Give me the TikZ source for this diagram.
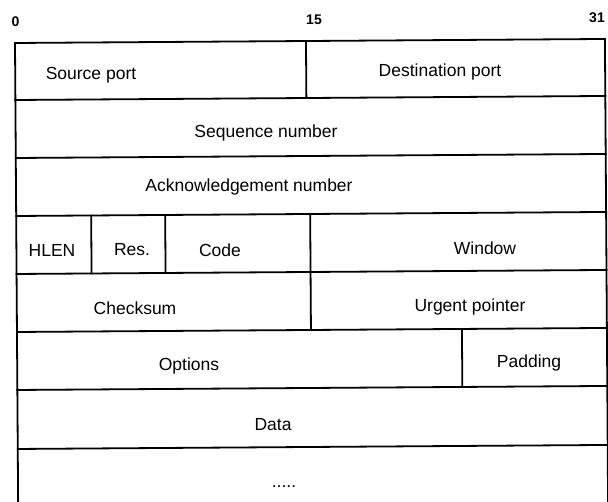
\documentclass[tikz,border=0pt]{standalone}
\usepackage{fontspec}
\setmainfont{Liberation Sans}
\begin{document}
\begin{tikzpicture}[x=1pt,y=-1pt,
  grid/.style={line width=1.8pt,line cap=rect},
  field/.style={inner sep=0pt,font=\fontsize{17.5}{20}\selectfont},
  bitlabel/.style={inner sep=0pt,font=\fontsize{14}{16}\selectfont\bfseries}]
\useasboundingbox (0,0) rectangle (608,502);
\fill[white] (0,0) rectangle (608,502);
% grid, slightly tilted as in the scan
\begin{scope}[rotate around={0.39:(15,43)}]
  \coordinate (tl) at (15,43);
  \coordinate (tr) at (605,43);
  \coordinate (bl) at (15,510);
  \coordinate (br) at (605,510);
  \draw[grid] (bl) -- (tl) -- (tr) -- (br);
  \foreach \y in {100,158,216,274,332,390,449}
    \draw[grid] (15,\y) -- (605,\y);
  \draw[grid] (306,43) -- (306,100);
  \draw[grid] (90,216) -- (90,274);
  \draw[grid] (164,216) -- (164,274);
  \draw[grid] (309,216) -- (309,332);
  \draw[grid] (460,332) -- (460,390);
\end{scope}
% bit position labels
\node[bitlabel] (b0)  at (15.5,22) {0};
\node[bitlabel] (b15) at (314,20) {15};
\node[bitlabel] (b31) at (597,18) {31};
% field texts
\node[field] (src)  at (91,75)   {Source port};
\node[field] (dst)  at (440,72)  {Destination port};
\node[field] (seq)  at (266,133) {Sequence number};
\node[field] (ack)  at (249,187) {Acknowledgement number};
\node[field] (hlen) at (52,250)  {HLEN};
\node[field] (res)  at (132,250) {Res.};
\node[field] (code) at (220,250) {Code};
\node[field] (win)  at (485,248) {Window};
\node[field] (chk)  at (135,308) {Checksum};
\node[field] (urg)  at (470,307) {Urgent pointer};
\node[field] (opt)  at (189,366) {Options};
\node[field] (pad)  at (529,363) {Padding};
\node[field] (data) at (273,425) {Data};
\node[field] (dots) at (284,487) {.....};
\end{tikzpicture}
\end{document}
